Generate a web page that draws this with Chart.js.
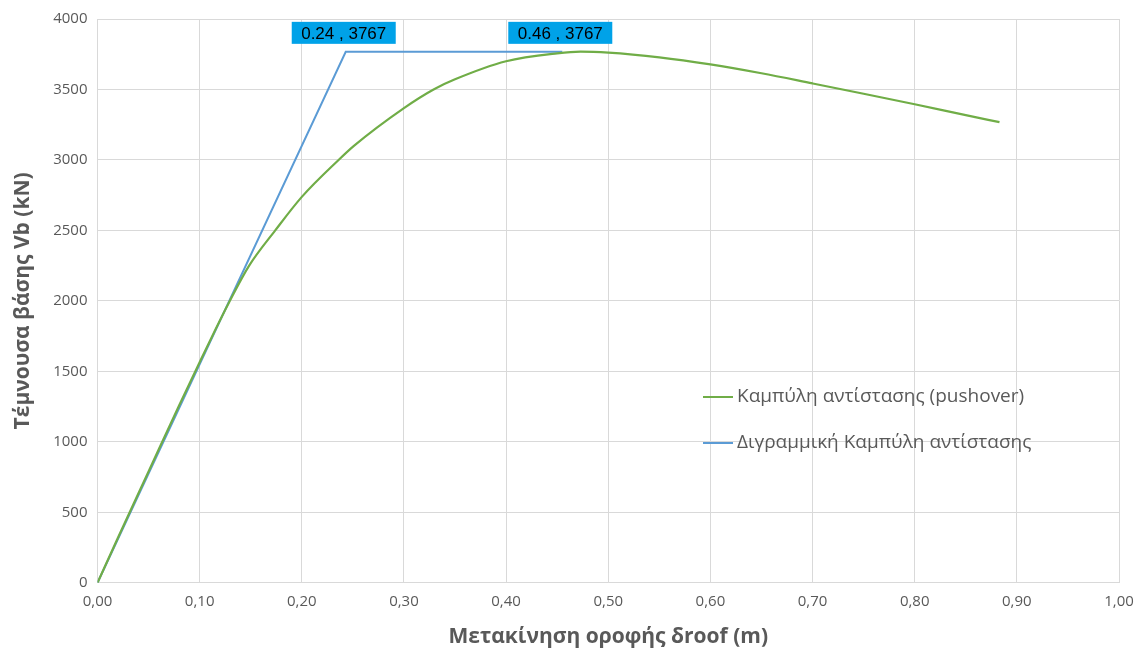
<!DOCTYPE html>
<html>
<head>
<meta charset="utf-8">
<script src="https://cdn.jsdelivr.net/npm/chart.js@4/dist/chart.umd.min.js"></script>
<style>
  html, body { margin: 0; padding: 0; background: #fff; }
  #wrap { width: 1147px; height: 651px; }
</style>
</head>
<body>
<div id="wrap"><canvas id="c"></canvas></div>
<script>
// pushover curve (m, kN)
const pushX = [0, 0.02, 0.05, 0.08, 0.10, 0.115, 0.1285, 0.148, 0.174, 0.20, 0.236, 0.251, 0.30, 0.329, 0.35, 0.40, 0.45, 0.473, 0.50, 0.55, 0.60, 0.65, 0.70, 0.75, 0.80, 0.85, 0.883]
const pushV = [0, 320, 790, 1260, 1565, 1790, 1985, 2245, 2500, 2738, 3000, 3100, 3368, 3500, 3572, 3700, 3756, 3768, 3761, 3728, 3678, 3615, 3543, 3470, 3395, 3318, 3268]

// bilinear idealisation
const biX = [0, 0.243, 0.455]
const biV = [0, 3767, 3767]
const biLabels = ["", "0.24 , 3767", "0.46 , 3767"]

const xTicks = [0, 0.1, 0.2, 0.3, 0.4, 0.5, 0.6, 0.7, 0.8, 0.9, 1.0]

const labelNames = ["Καμπύλη αντίστασης (pushover)", "Διγραμμική Καμπύλη αντίστασης"]
const colors = { push: "#70AD47", bi: "#5B9BD5", box: "#00A2E8" }

const toPts = (xs, ys) => xs.map((x, i) => ({x: x, y: ys[i]}))

const legendPlugin = {
  id: "insideLegend",
  afterDraw(chart) {
    const ctx = chart.ctx
    const rows = [[labelNames[0], colors.push, 397], [labelNames[1], colors.bi, 443]]
    ctx.save()
    ctx.font = "19px 'Open Sans'"
    ctx.textBaseline = "middle"
    rows.forEach(([txt, col, y]) => {
      ctx.strokeStyle = col
      ctx.lineWidth = 2
      ctx.beginPath()
      ctx.moveTo(703, y)
      ctx.lineTo(733, y)
      ctx.stroke()
      ctx.fillStyle = "#595959"
      ctx.fillText(txt, 737, y)
    })
    ctx.restore()
  }
}

const boxPlugin = {
  id: "pointBoxes",
  afterDatasetsDraw(chart) {
    const ctx = chart.ctx
    const meta = chart.getDatasetMeta(1)
    ctx.save()
    ctx.font = "17px 'Liberation Sans'"
    ctx.textBaseline = "middle"
    ctx.textAlign = "center"
    meta.data.forEach((pt, i) => {
      if (!biLabels[i]) return
      const w = 104, h = 22
      const cx = pt.x - 2, top = pt.y - 30
      ctx.fillStyle = colors.box
      ctx.fillRect(cx - w / 2, top, w, h)
      ctx.fillStyle = "#000"
      ctx.fillText(biLabels[i], cx, top + h / 2 + 1)
    })
    ctx.restore()
  }
}

new Chart(document.getElementById("c"), {
  type: "scatter",
  data: {
    datasets: [{
      label: labelNames[0],
      data: toPts(pushX, pushV),
      borderColor: colors.push,
      backgroundColor: colors.push,
      borderWidth: 2.2,
      showLine: true,
      pointRadius: 0,
      cubicInterpolationMode: "monotone",
    }, {
      label: labelNames[1],
      data: toPts(biX, biV),
      borderColor: colors.bi,
      backgroundColor: colors.bi,
      borderWidth: 2,
      showLine: true,
      pointRadius: 0,
      tension: 0,
    }]
  },
  options: {
    responsive: true,
    maintainAspectRatio: false,
    animation: false,
    layout: { padding: { left: 10, right: 28, top: 17, bottom: 1 } },
    plugins: { legend: { display: false }, tooltip: { enabled: false } },
    scales: {
      x: {
        type: "linear",
        min: 0, max: 1,
        afterBuildTicks: (axis) => { axis.ticks = xTicks.map(v => ({value: v})) },
        ticks: {
          color: "#595959",
          font: { family: "'Open Sans'", size: 15 },
          padding: 10,
          maxRotation: 0,
          callback: (v) => v.toFixed(2).replace(".", ",")
        },
        grid: { color: "#D9D9D9", drawTicks: false },
        border: { color: "#D9D9D9" },
        title: {
          display: true,
          text: "Μετακίνηση οροφής δroof (m)",
          color: "#595959",
          font: { family: "'Open Sans'", size: 21, weight: "bold" },
          padding: { top: 4, bottom: 0 }
        }
      },
      y: {
        min: 0, max: 4000,
        ticks: {
          stepSize: 500,
          color: "#595959",
          font: { family: "'Open Sans'", size: 15 },
          padding: 10,
          callback: (v) => String(v)
        },
        grid: { color: "#D9D9D9", drawTicks: false },
        border: { color: "#D9D9D9" },
        title: {
          display: true,
          text: "Τέμνουσα βάσης Vb (kN)",
          color: "#595959",
          font: { family: "'Open Sans'", size: 21, weight: "bold" },
          padding: { top: 0, bottom: 8 }
        }
      }
    }
  },
  plugins: [boxPlugin, legendPlugin]
})
</script>
</body>
</html>
